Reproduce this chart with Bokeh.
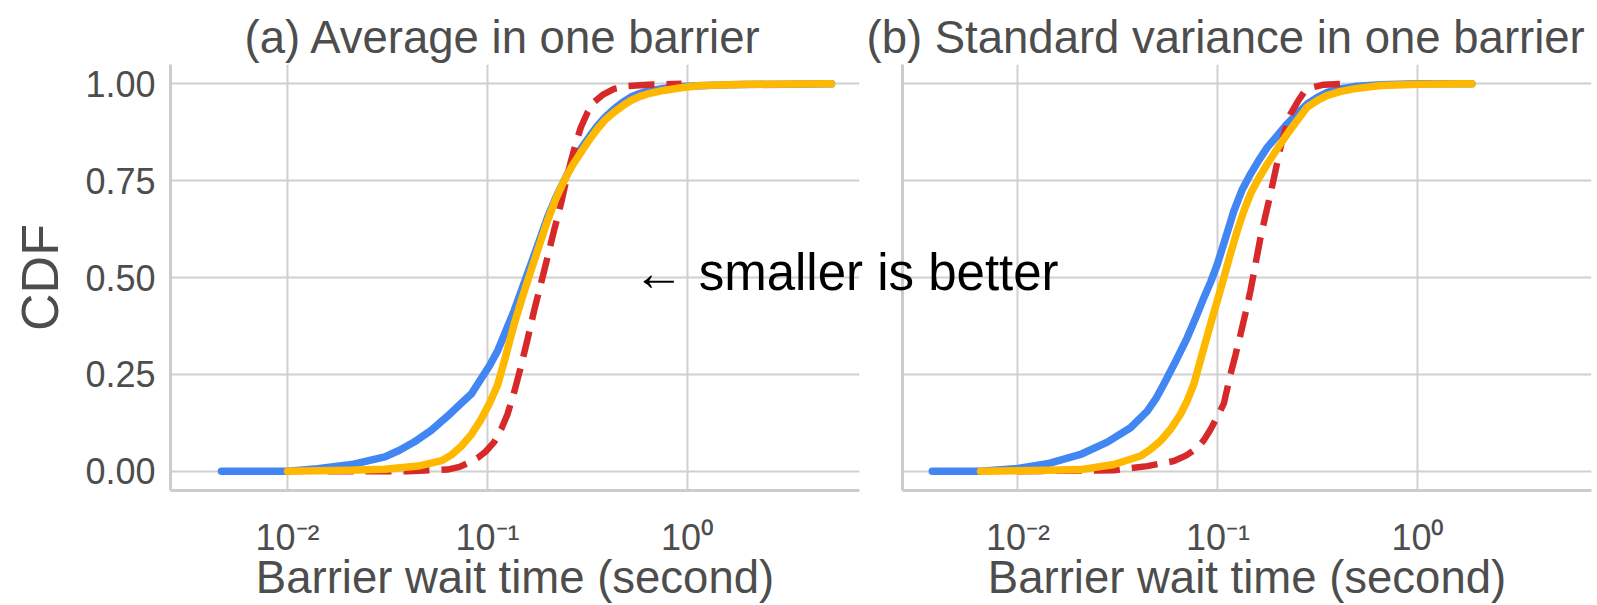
from bokeh.plotting import figure
from bokeh.models import Range1d, FixedTicker, CustomJSTickFormatter, Label, ColumnDataSource
from bokeh.layouts import row
from bokeh.embed import file_html
from bokeh.resources import INLINE

# ---------------- data ----------------
titles = ["(a) Average in one barrier", "(b) Standard variance in one barrier"]
x_label = "Barrier wait time (second)"
y_label = "CDF"
annotation = "\u2190 smaller is better"
x_ticks = [0.01, 0.1, 1.0]
x_tick_labels = ["10\u207b\u00b2", "10\u207b\u00b9", "10\u2070"]
y_ticks = [0.0, 0.25, 0.5, 0.75, 1.0]
y_tick_labels = ["0.00", "0.25", "0.50", "0.75", "1.00"]

# panel (a): wait time given as log10(seconds), CDF value
a_blue_log10x = [-2.33, -2.0, -1.85, -1.68, -1.513, -1.44, -1.367, -1.28, -1.2, -1.13, -1.08, -1.033,
                 -0.99, -0.95, -0.91, -0.867, -0.825, -0.783, -0.74, -0.7, -0.66, -0.617, -0.575,
                 -0.533, -0.49, -0.45, -0.41, -0.367, -0.325, -0.283, -0.24, -0.2, -0.12, -0.033,
                 0.2, 0.72]
a_blue_cdf = [0.0, 0.0, 0.006, 0.017, 0.037, 0.054, 0.075, 0.106, 0.142, 0.176, 0.2, 0.238,
              0.272, 0.31, 0.36, 0.414, 0.474, 0.534, 0.596, 0.655, 0.704, 0.75, 0.793,
              0.832, 0.864, 0.892, 0.915, 0.935, 0.952, 0.966, 0.975, 0.981, 0.988, 0.993,
              0.998, 1.0]
a_yellow_log10x = [-2.0, -1.7, -1.513, -1.347, -1.23, -1.18, -1.13, -1.08, -1.033, -0.99, -0.95,
                   -0.91, -0.867, -0.825, -0.783, -0.74, -0.7, -0.66, -0.617, -0.575, -0.533,
                   -0.49, -0.45, -0.41, -0.367, -0.325, -0.283, -0.24, -0.2, -0.12, -0.033,
                   0.067, 0.3, 0.72]
a_yellow_cdf = [0.0, 0.002, 0.005, 0.013, 0.027, 0.042, 0.065, 0.095, 0.133, 0.175, 0.222,
                0.295, 0.379, 0.45, 0.517, 0.585, 0.647, 0.701, 0.75, 0.79, 0.823,
                0.856, 0.884, 0.908, 0.927, 0.943, 0.957, 0.967, 0.974, 0.983, 0.99,
                0.996, 0.999, 1.0]
a_red_log10x = [-1.8, -1.4, -1.2, -1.14, -1.093, -1.05, -1.01, -0.967, -0.93, -0.9, -0.866, -0.833,
                -0.8, -0.767, -0.733, -0.7, -0.667, -0.633, -0.608, -0.583, -0.558, -0.533,
                -0.5, -0.467, -0.42, -0.367, -0.3, -0.2, -0.03]
a_red_cdf = [0.0, 0.0, 0.004, 0.011, 0.022, 0.034, 0.05, 0.075, 0.11, 0.147, 0.205, 0.27,
             0.34, 0.414, 0.484, 0.552, 0.622, 0.69, 0.747, 0.8, 0.847, 0.888,
             0.926, 0.953, 0.973, 0.987, 0.994, 0.998, 1.0]

# panel (b)
b_blue_log10x = [-2.428, -2.187, -2.0, -1.853, -1.687, -1.553, -1.437, -1.353, -1.31, -1.27,
                 -1.21, -1.153, -1.11, -1.07, -1.035, -1.003, -0.96, -0.92, -0.88, -0.837,
                 -0.795, -0.753, -0.7, -0.653, -0.6, -0.553, -0.5, -0.453, -0.39, -0.32,
                 -0.187, 0.0, 0.27]
b_blue_cdf = [0.0, 0.0, 0.007, 0.019, 0.043, 0.075, 0.112, 0.155, 0.187, 0.225,
              0.285, 0.345, 0.397, 0.448, 0.49, 0.534, 0.605, 0.672, 0.725, 0.767,
              0.803, 0.836, 0.868, 0.897, 0.925, 0.948, 0.966, 0.978, 0.987, 0.993,
              0.998, 1.0, 1.0]
b_yellow_log10x = [-2.187, -1.853, -1.687, -1.52, -1.387, -1.337, -1.287, -1.237, -1.187, -1.153,
                   -1.12, -1.08, -1.037, -1.0, -0.97, -0.937, -0.903, -0.87, -0.837, -0.795,
                   -0.753, -0.7, -0.653, -0.6, -0.553, -0.5, -0.453, -0.39, -0.32, -0.187,
                   0.0, 0.27]
b_yellow_cdf = [0.0, 0.002, 0.004, 0.017, 0.039, 0.056, 0.078, 0.108, 0.147, 0.182,
                0.225, 0.3, 0.379, 0.445, 0.5, 0.562, 0.621, 0.672, 0.716, 0.757,
                0.793, 0.835, 0.871, 0.908, 0.94, 0.958, 0.97, 0.98, 0.987, 0.996,
                0.999, 1.0]
b_red_log10x = [-2.0, -1.52, -1.353, -1.22, -1.16, -1.103, -1.07, -1.04, -1.005, -0.97, -0.937,
                -0.912, -0.887, -0.862, -0.837, -0.812, -0.787, -0.762, -0.737, -0.712, -0.687,
                -0.662, -0.637, -0.6, -0.57, -0.52, -0.47, -0.37]
b_red_cdf = [0.0, 0.002, 0.013, 0.026, 0.04, 0.06, 0.08, 0.105, 0.138, 0.175, 0.25,
             0.3, 0.353, 0.408, 0.466, 0.535, 0.603, 0.66, 0.716, 0.776, 0.836,
             0.885, 0.922, 0.955, 0.978, 0.992, 0.998, 1.0]

# ---------------- styling ----------------
FONT = "Liberation Sans"
GREY = "#4d4d4d"
BLUE = "#4286F4"
YELLOW = "#FFB800"
RED = "#D7282A"
GRID = "#d0d0d0"
AXIS = "#cccccc"
H = 605


def tick_formatter(vals, labs):
    return CustomJSTickFormatter(
        args=dict(vals=vals, labs=labs),
        code="""
        const i = vals.findIndex((t) => Math.abs(t - tick) <= 1e-9 * Math.max(1, Math.abs(t)));
        return i >= 0 ? labs[i] : "";
        """)


def make_panel(title, series, x_exp_range, width, min_left, min_right, title_offset, show_y):
    p = figure(width=width, height=H, x_axis_type="log",
               x_range=Range1d(10 ** x_exp_range[0], 10 ** x_exp_range[1]),
               y_range=Range1d(-0.05, 1.05),
               output_backend="svg", toolbar_location=None,
               min_border_left=min_left, min_border_right=min_right,
               min_border_top=64, min_border_bottom=115,
               title=title)
    p.outline_line_color = None
    p.border_fill_color = None
    p.background_fill_color = None
    p.title.align = "left"
    p.title.offset = title_offset
    p.title.standoff = 3
    p.title.text_font = FONT
    p.title.text_font_size = "45.5px"
    p.title.text_font_style = "normal"
    p.title.text_color = GREY

    p.grid.grid_line_color = GRID
    p.grid.grid_line_width = 2

    p.xaxis.ticker = FixedTicker(ticks=x_ticks)
    p.xgrid.ticker = FixedTicker(ticks=x_ticks)
    p.xaxis.formatter = tick_formatter(x_ticks, x_tick_labels)
    p.yaxis.ticker = FixedTicker(ticks=y_ticks)
    p.ygrid.ticker = FixedTicker(ticks=y_ticks)
    if show_y:
        p.yaxis.formatter = tick_formatter(y_ticks, y_tick_labels)
        p.yaxis.axis_label = y_label
    else:
        p.yaxis.formatter = CustomJSTickFormatter(code="return '';")

    for ax in (p.xaxis, p.yaxis):
        ax.axis_line_color = AXIS
        ax.axis_line_width = 3
        ax.major_tick_line_color = None
        ax.minor_tick_line_color = None
        ax.major_label_text_font = FONT
        ax.major_label_text_font_size = "36px"
        ax.major_label_text_color = GREY
        ax.axis_label_text_font = FONT
        ax.axis_label_text_font_style = "normal"
        ax.axis_label_text_color = GREY

    p.xaxis.axis_label = x_label
    p.xaxis.axis_label_text_font_size = "45.5px"
    p.xaxis.major_label_standoff = 20
    p.xaxis.axis_label_standoff = -9
    p.yaxis.major_label_standoff = 9
    p.yaxis.axis_label_text_font_size = "52px"
    p.yaxis.axis_label_standoff = 13

    for (lx, cdf), color, dash in series:
        src = ColumnDataSource(dict(x=[10 ** e for e in lx], y=cdf))
        if dash:
            p.line("x", "y", source=src, line_color=color, line_width=6.5, line_dash="26 12")
        else:
            p.line("x", "y", source=src, line_color=color, line_width=7.5, line_cap="round",
                   line_join="round")
    return p


left = make_panel(
    titles[0],
    [((a_blue_log10x, a_blue_cdf), BLUE, False),
     ((a_red_log10x, a_red_cdf), RED, True),
     ((a_yellow_log10x, a_yellow_cdf), YELLOW, False)],
    (-2.585, 0.86), 879, 170, 20, 74, True)

right = make_panel(
    titles[1],
    [((b_blue_log10x, b_blue_cdf), BLUE, False),
     ((b_red_log10x, b_red_cdf), RED, True),
     ((b_yellow_log10x, b_yellow_cdf), YELLOW, False)],
    (-2.577, 0.868), 977, 282, 6, -36, False)

# transparent overlay (same scale as panel (b)) carrying the annotation that spans both panels
overlay = figure(width=460, height=H, x_axis_type="log",
                 x_range=Range1d(10 ** -3.987, 10 ** -1.687), y_range=Range1d(-0.05, 1.05),
                 x_axis_location=None, y_axis_location=None,
                 min_border_left=0, min_border_right=0, min_border_top=64, min_border_bottom=115,
                 output_backend="svg", toolbar_location=None)
overlay.grid.visible = False
overlay.outline_line_color = None
overlay.border_fill_color = None
overlay.background_fill_color = None
overlay.add_layout(Label(x=10 ** -3.922, y=0.514, x_units="data", y_units="data",
                         text=annotation, text_font=FONT, text_font_size="51px",
                         text_color="black", text_baseline="alphabetic", text_align="left"))

# panel (b) starts at x=620 (overlapping the transparent right border of panel (a));
# the overlay is last so that its text is drawn above both panels' grid lines
right.margin = (0, 0, 0, -259)
overlay.margin = (0, 0, 0, -977)

layout = row(left, right, overlay)
open("out.html", "w").write(file_html(layout, INLINE))
